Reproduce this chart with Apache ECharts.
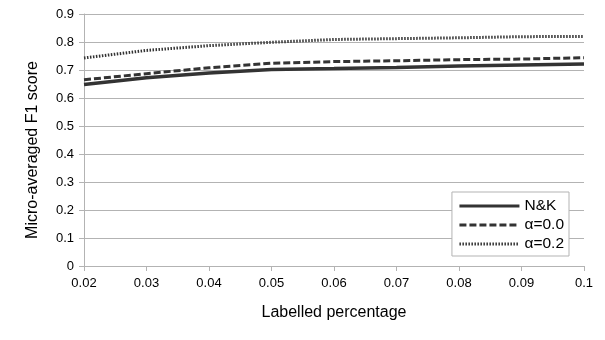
<!DOCTYPE html>
<html><head><meta charset="utf-8">
<script src="https://cdn.jsdelivr.net/npm/echarts@6/dist/echarts.min.js"></script>
<style>html,body{margin:0;padding:0;background:#fff}#c{width:605px;height:340px}</style>
</head><body><div id="c"></div>
<script>
const xValues = [0.02, 0.03, 0.04, 0.05, 0.06, 0.07, 0.08, 0.09, 0.1];
const seriesNames = ['N&K', 'α=0.0', 'α=0.2'];
const nk = [0.648, 0.672, 0.689, 0.702, 0.705, 0.709, 0.714, 0.718, 0.721];
const alpha0 = [0.665, 0.687, 0.708, 0.724, 0.730, 0.733, 0.737, 0.739, 0.744];
const alpha2 = [0.743, 0.770, 0.787, 0.799, 0.809, 0.812, 0.815, 0.819, 0.820];
const yTicks = [0, 0.1, 0.2, 0.3, 0.4, 0.5, 0.6, 0.7, 0.8, 0.9];

const font = 'Liberation Sans';
const pair = arr => xValues.map((x, i) => [x, arr[i]]);
const chart = echarts.init(document.getElementById('c'), null, {renderer: 'canvas'});
chart.setOption({
  animation: false,
  textStyle: {fontFamily: font},
  grid: {left: 84, right: 21, top: 14, bottom: 74},
  xAxis: {
    type: 'value', min: 0.02, max: 0.1, interval: 0.01,
    name: 'Labelled percentage', nameLocation: 'middle', nameGap: 39,
    nameTextStyle: {fontFamily: font, fontSize: 16, color: '#000'},
    axisLine: {show: true, lineStyle: {color: '#b3b3b3', width: 1}},
    axisTick: {show: true, length: 5, lineStyle: {color: '#b3b3b3'}},
    axisLabel: {fontFamily: font, fontSize: 13, color: '#000', margin: 11,
      formatter: v => String(parseFloat(v.toFixed(2)))},
    splitLine: {show: false}
  },
  yAxis: {
    type: 'value', min: yTicks[0], max: yTicks[yTicks.length - 1], interval: 0.1,
    name: 'Micro-averaged F1 score', nameLocation: 'middle', nameGap: 43,
    nameTextStyle: {fontFamily: font, fontSize: 16, color: '#000', padding: [0, 20, 0, 0]},
    axisLine: {show: true, lineStyle: {color: '#b3b3b3', width: 1}},
    axisTick: {show: true, length: 5, lineStyle: {color: '#b3b3b3'}},
    axisLabel: {fontFamily: font, fontSize: 13, color: '#000', margin: 10,
      formatter: v => String(parseFloat(v.toFixed(1)))},
    splitLine: {show: true, lineStyle: {color: '#b3b3b3', width: 1}}
  },
  legend: {
    right: 36, top: 192, orient: 'vertical',
    data: seriesNames,
    itemWidth: 60, itemHeight: 14, itemGap: 3,
    itemStyle: {opacity: 0},
    lineStyle: {width: 3},
    backgroundColor: '#fff',
    borderColor: '#b3b3b3', borderWidth: 1, padding: [6, 5, 4, 6],
    textStyle: {fontFamily: font, fontSize: 15.5, color: '#000'}
  },
  series: [
    {name: seriesNames[0], type: 'line', data: pair(nk), symbol: 'none',
     lineStyle: {color: '#333', width: 3.5, type: 'solid'}, itemStyle: {color: '#333'}},
    {name: seriesNames[1], type: 'line', data: pair(alpha0), symbol: 'none',
     lineStyle: {color: '#333', width: 3, type: [7, 3]}, itemStyle: {color: '#333'}},
    {name: seriesNames[2], type: 'line', data: pair(alpha2), symbol: 'none',
     lineStyle: {color: '#333', width: 3, type: [1.5, 1.5]}, itemStyle: {color: '#333'}}
  ]
});
</script></body></html>
